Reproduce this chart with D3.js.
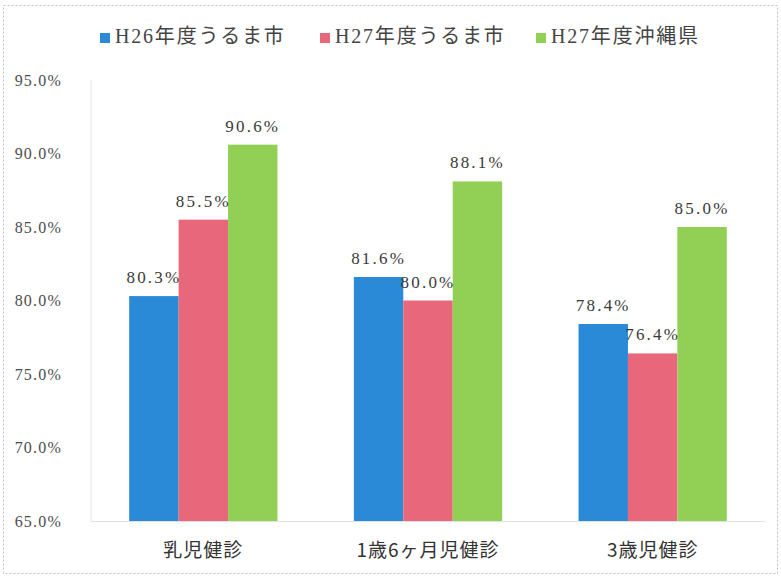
<!DOCTYPE html>
<html>
<head>
<meta charset="utf-8">
<script src="https://cdn.jsdelivr.net/npm/d3@7"></script>
<style>
  body { margin: 0; background: #fff; }
</style>
</head>
<body>
<div id="chart"></div>
<script>
// categories and series
const categories = ["乳児健診", "1歳6ヶ月児健診", "3歳児健診"];
const seriesNames = ["H26年度うるま市", "H27年度うるま市", "H27年度沖縄県"];
const seriesColors = ["#2b8ad7", "#e9677a", "#92cf55"];
const h26Uruma = [80.3, 81.6, 78.4];
const h27Uruma = [85.5, 80.0, 76.4];
const h27Okinawa = [90.6, 88.1, 85.0];
const yTicks = [65, 70, 75, 80, 85, 90, 95];

const seriesValues = [h26Uruma, h27Uruma, h27Okinawa];

const width = 781;
const height = 578;
const margin = { top: 80, right: 16, bottom: 57, left: 91 };
const serif = "'Liberation Serif', 'Times New Roman', serif";

const svg = d3.select("#chart").append("svg")
  .attr("width", width)
  .attr("height", height);

// dotted frame of the scanned chart
svg.append("rect")
  .attr("x", 3.5)
  .attr("y", 5.5)
  .attr("width", width - 7)
  .attr("height", height - 10)
  .attr("fill", "none")
  .attr("stroke", "#b9c2cf")
  .attr("stroke-dasharray", "2,2");

const x0 = d3.scaleBand()
  .domain(categories)
  .range([margin.left, width - margin.right])
  .paddingInner(0.34)
  .paddingOuter(0.17);

const x1 = d3.scaleBand()
  .domain(seriesNames)
  .range([0, x0.bandwidth()]);

const y = d3.scaleLinear()
  .domain([65, 95])
  .range([height - margin.bottom, margin.top]);

// axis lines
svg.append("line")
  .attr("x1", margin.left).attr("x2", margin.left)
  .attr("y1", y(95)).attr("y2", y(65))
  .attr("stroke", "#e2e2e2");
svg.append("line")
  .attr("x1", margin.left).attr("x2", width - margin.right)
  .attr("y1", y(65) + 0.5).attr("y2", y(65) + 0.5)
  .attr("stroke", "#e2e2e2");

// y axis labels
const yAxis = svg.append("g")
  .attr("transform", `translate(${margin.left - 26},0)`)
  .call(d3.axisLeft(y).tickValues(yTicks).tickSize(0).tickFormat(d => d3.format(".1f")(d) + "%"));
yAxis.select(".domain").remove();
yAxis.selectAll("text")
  .attr("font-family", serif)
  .attr("font-size", "16px")
  .attr("letter-spacing", "1.2px")
  .attr("fill", "#4d4d4d");

// bars
const rows = categories.map((c, i) => ({
  cat: c,
  vals: seriesNames.map((s, j) => ({ s, j, v: seriesValues[j][i] }))
}));

const groups = svg.selectAll("g.grp")
  .data(rows)
  .enter().append("g")
  .attr("class", "grp")
  .attr("transform", d => `translate(${x0(d.cat)},0)`);

groups.selectAll("rect")
  .data(d => d.vals)
  .enter().append("rect")
  .attr("x", d => x1(d.s))
  .attr("y", d => y(d.v))
  .attr("width", x1.bandwidth())
  .attr("height", d => y(65) - y(d.v))
  .attr("fill", d => seriesColors[d.j]);

groups.selectAll("text.val")
  .data(d => d.vals)
  .enter().append("text")
  .attr("class", "val")
  .attr("x", d => x1(d.s) + x1.bandwidth() / 2)
  .attr("y", d => y(d.v) - 13)
  .attr("text-anchor", "middle")
  .attr("font-family", serif)
  .attr("font-size", "17px")
  .attr("letter-spacing", "2.2px")
  .attr("fill", "#3a3a3a")
  .text(d => d3.format(".1f")(d.v) + "%");

// x axis labels
const xAxis = svg.append("g")
  .attr("transform", `translate(0,${y(65)})`)
  .call(d3.axisBottom(x0).tickSize(0).tickPadding(23));
xAxis.select(".domain").remove();
xAxis.selectAll("text")
  .attr("font-family", "'Noto Sans CJK JP', sans-serif")
  .attr("font-size", "19px")
  .attr("letter-spacing", "1px")
  .attr("fill", "#333");

// legend
const legendX = [100, 320, 536];
const legend = svg.append("g");
seriesNames.forEach((s, i) => {
  const g = legend.append("g").attr("transform", `translate(${legendX[i]},32)`);
  g.append("rect")
    .attr("width", 10)
    .attr("height", 10)
    .attr("y", 1)
    .attr("fill", seriesColors[i]);
  g.append("text")
    .attr("x", 15)
    .attr("y", 11)
    .attr("font-family", "'Liberation Serif', 'Noto Sans CJK JP', serif")
    .attr("font-size", "20px")
    .attr("letter-spacing", "1.8px")
    .attr("fill", "#444")
    .text(s);
});
</script>
</body>
</html>
